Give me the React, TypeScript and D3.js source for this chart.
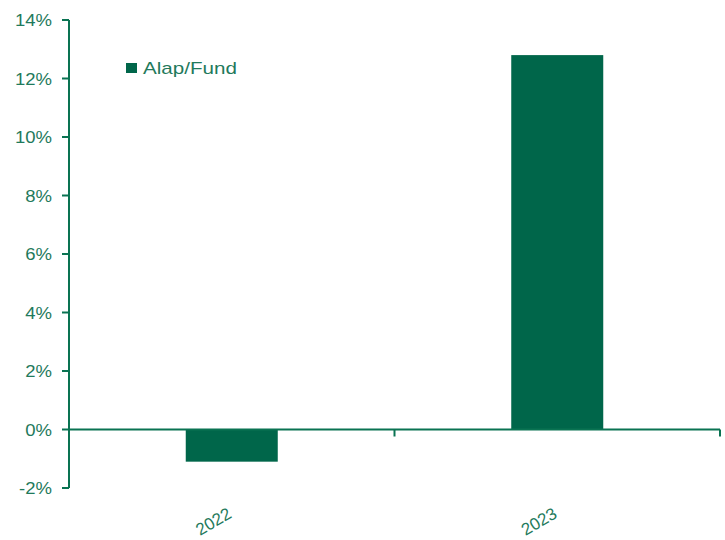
import React from "react";
import * as d3 from "d3";

const categories = ["2022", "2023"];
const values = [-1.1, 12.8];
const yTicks = [-2, 0, 2, 4, 6, 8, 10, 12, 14];
const seriesName = "Alap/Fund";

const W = 725, H = 540;
const left = 69, right = 720, top = 20, bottom = 488;
const barColor = "#00664a";
const axisColor = "#0a7352";
const textColor = "#1f7a5c";

export default function App() {
  const x = d3.scaleBand<string>().domain(categories).range([left, right]).paddingInner(0).paddingOuter(0);
  const y = d3.scaleLinear().domain([-2, 14]).range([bottom, top]);
  const bw = 92;
  const font = "Liberation Sans, Arial, sans-serif";
  return (
    <svg width={W} height={H} style={{ position: "absolute", left: 0, top: 0 }}>
      <rect x={0} y={0} width={W} height={H} fill="#fff" />
      {categories.map((c, i) => {
        const cx = x(c)! + x.bandwidth() / 2;
        const v = values[i];
        return (
          <rect key={c} x={cx - bw / 2} width={bw} y={Math.min(y(v), y(0))} height={Math.abs(y(v) - y(0))} fill={barColor} />
        );
      })}
      {/* y axis */}
      <line x1={left} x2={left} y1={top} y2={bottom} stroke={axisColor} strokeWidth={2} />
      {yTicks.map((t) => (
        <g key={t}>
          <line x1={left - 7} x2={left} y1={y(t)} y2={y(t)} stroke={axisColor} strokeWidth={2} />
          <g transform={`translate(${left - 17},${y(t)}) scale(1.09,1)`}>
            <text dy="0.36em" textAnchor="end" fontFamily={font} fontSize={17} fill={textColor}>{t}%</text>
          </g>
        </g>
      ))}
      {/* x axis */}
      <line x1={left} x2={right} y1={y(0)} y2={y(0)} stroke={axisColor} strokeWidth={2} />
      {[...categories.map((c) => x(c)!), right].map((tx, i) => (
        <line key={i} x1={tx} x2={tx} y1={y(0)} y2={y(0) + 7} stroke={axisColor} strokeWidth={2} />
      ))}
      {categories.map((c) => {
        const cx = x(c)! + x.bandwidth() / 2;
        return (
          <text key={c} transform={`translate(${cx + 1},${bottom + 29}) rotate(-30)`} textAnchor="end" fontFamily={font} fontSize={17} fill={textColor}>{c}</text>
        );
      })}
      {/* legend */}
      <rect x={126} y={63} width={11} height={10} fill={barColor} />
      <text x={143} y={74} fontFamily={font} fontSize={17} fill={textColor} textLength={94} lengthAdjust="spacingAndGlyphs">{seriesName}</text>
    </svg>
  );
}
